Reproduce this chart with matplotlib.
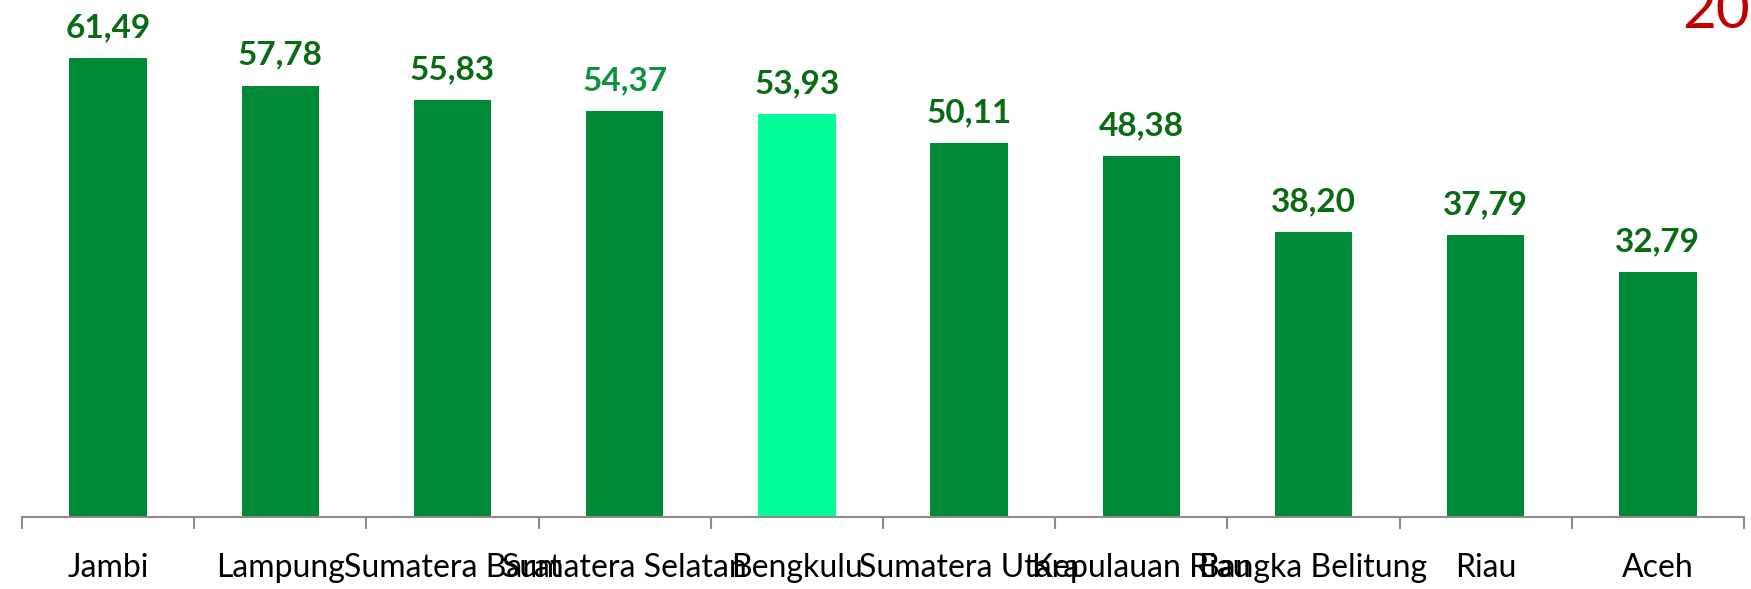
import matplotlib
matplotlib.use("Agg")
import matplotlib.pyplot as plt
from matplotlib.transforms import offset_copy

categories = ["Jambi", "Lampung", "Sumatera Barat", "Sumatera Selatan", "Bengkulu",
              "Sumatera Utara", "Kepulauan Riau", "Bangka Belitung", "Riau", "Aceh"]
values = [61.49, 57.78, 55.83, 54.37, 53.93, 50.11, 48.38, 38.20, 37.79, 32.79]
highlight = "Bengkulu"
title_text = "20"

BAR = "#008A36"
HIL = "#00FF99"
LBL = "#0B6B14"
LBL_LIGHT = "#0E9140"

W, H = 1751, 589
fig = plt.figure(figsize=(W / 100, H / 100), dpi=100)
ax_left, ax_right, ax_axis_y = 22, 1744, 517
ax = fig.add_axes([ax_left / W, (H - ax_axis_y) / H, (ax_right - ax_left) / W, ax_axis_y / H])

px_per_unit = 7.465
ax.set_ylim(0, ax_axis_y / px_per_unit)
ax.set_xlim(-0.5, len(categories) - 0.5)

x = list(range(len(categories)))
colors = [HIL if c == highlight else BAR for c in categories]
ax.bar(x, values, width=0.45, color=colors, zorder=2)

for s in ["top", "right", "left"]:
    ax.spines[s].set_visible(False)
ax.spines["bottom"].set_color("#8C8C8C")
ax.spines["bottom"].set_linewidth(1.5)
ax.set_yticks([])
ax.set_xticks([])
ax.set_xticks([i - 0.5 for i in range(len(categories) + 1)], minor=True)
ax.tick_params(axis="x", which="minor", direction="out", length=8.6, width=1.5,
               color="#8C8C8C", labelbottom=False)

font = "Lato"
for i, (c, v) in enumerate(zip(categories, values)):
    col = LBL_LIGHT if c == "Sumatera Selatan" else LBL
    ax.annotate(f"{v:.2f}".replace(".", ","), xy=(i, v), xytext=(0, 21),
                textcoords="offset pixels", ha="center", va="baseline",
                fontsize=24, fontweight="bold", color=col, family=font)
    tr = offset_copy(ax.get_xaxis_transform(), fig=fig, x=0, y=-60, units="dots")
    ax.text(i, 0, c, transform=tr, ha="center", va="baseline",
            fontsize=23, color="black", family=font)

fig.text(1682 / W, 1 - 28 / H, title_text, ha="left", va="baseline",
         fontsize=42, color="#C00000", family=font)

fig.savefig("out.png", dpi=100)
